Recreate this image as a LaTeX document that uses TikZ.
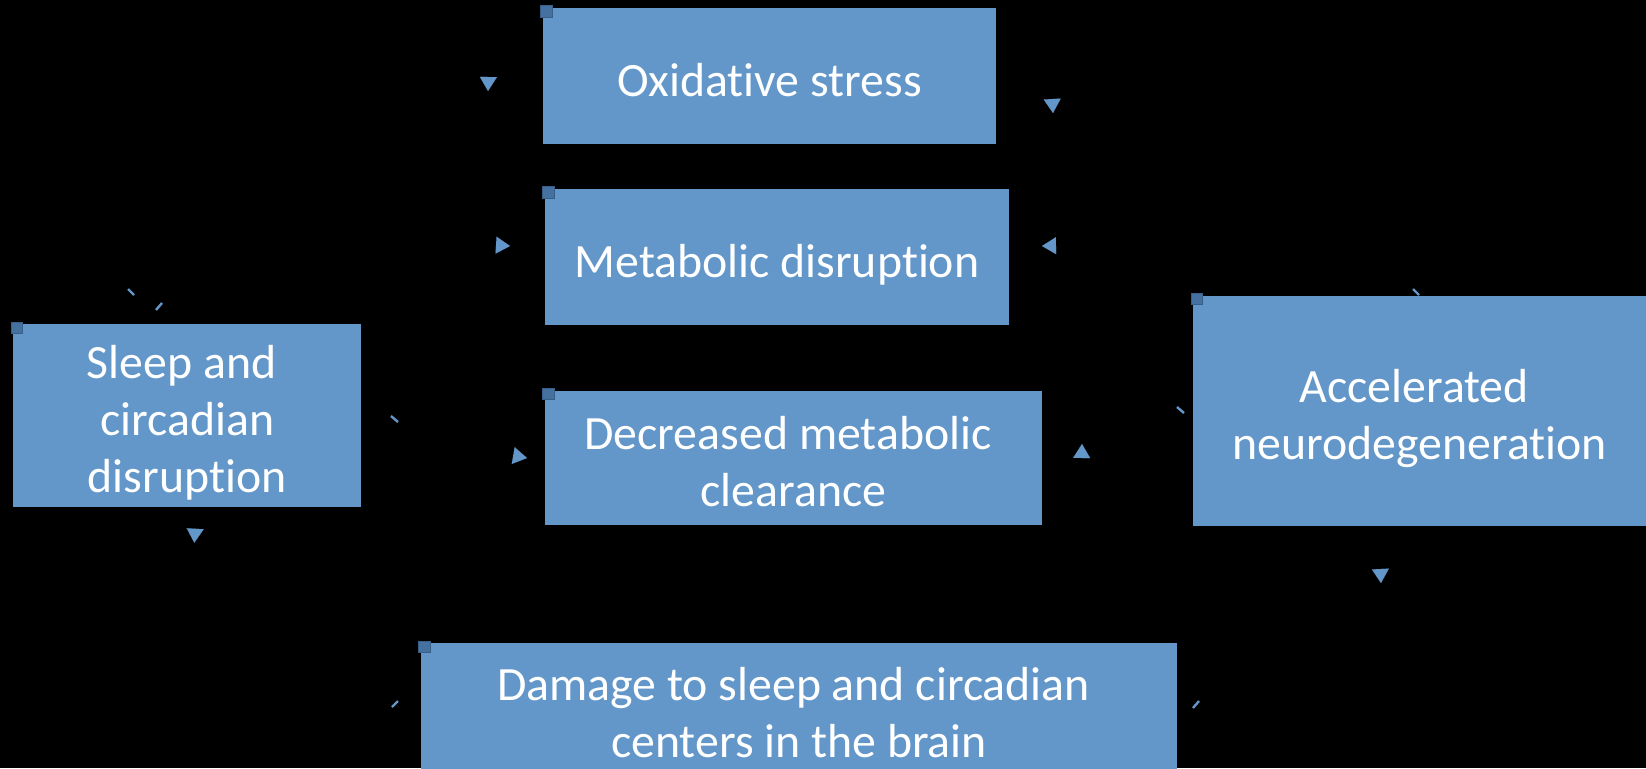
\documentclass[tikz,border=0pt]{standalone}
\usepackage{fontspec}
\setmainfont{Carlito}[Ligatures=NoCommon]
\usetikzlibrary{arrows.meta}
\definecolor{boxblue}{HTML}{6397C9}
\definecolor{mkblue}{HTML}{44719F}
\definecolor{mkedge}{HTML}{375F88}
\pgfdeclarelayer{bg}
\pgfdeclarelayer{background}
\pgfsetlayers{bg,background,main}
\newcommand\trsp{\hspace*{0.23em}}
\newcommand\topstr{\rule{0pt}{27pt}}
\newcommand\botstr{\rule[-7pt]{0pt}{7pt}}
\begin{document}
\begin{tikzpicture}[x=0.5pt,y=-0.5pt,
  box/.style={fill=boxblue, inner sep=0pt, outer sep=0pt, text=white, align=center,
    font=\fontsize{23.9pt}{28.6pt}\selectfont},
  selmark/.style={fill=mkblue, draw=mkedge, line width=0.3pt, minimum size=5.6pt,
    inner sep=0pt, outer sep=0pt},
  conn/.style={draw=black, line width=1pt,
    -{Triangle[length=7pt,width=8.5pt,line width=0.01pt,color=boxblue]}},
  stub/.style={draw=boxblue, line width=1.2pt}]
\useasboundingbox (0,0) rectangle (1646,768);
\begin{pgfonlayer}{bg}
  \fill[black] (0,0) rectangle (1646,768);
\end{pgfonlayer}
\clip (0,0) rectangle (1646,768);

% boxes
\node[box, minimum width=226.5pt, minimum height=68pt] (ox) at (769.5,76)
  {\topstr Oxidative stress\botstr};
\node[box, minimum width=232pt, minimum height=68pt] (md) at (777,257)
  {\topstr Metabolic disruption\botstr};
\node[box, minimum width=248.5pt, minimum height=67.25pt] (dc) at (793.5,457.75)
  {\topstr Decreased metabolic\trsp\\clearance\botstr};
\node[box, minimum width=173.85pt, minimum height=90.5pt] (sl) at (187.2,415.5)
  {\topstr Sleep and\trsp\\circadian\trsp\\disruption\botstr};
\node[box, minimum width=226.35pt, minimum height=115.15pt] (ac) at (1419.7,411)
  {\topstr Accelerated\trsp\\neurodegeneration\botstr};
\node[box, minimum width=378pt, minimum height=65.75pt] (dm) at (799,709)
  {\topstr Damage to sleep and circadian\trsp\\centers in the brain\botstr};

% selection markers
\foreach \n in {ox,md,dc,sl,ac,dm}
  \node[selmark] (\n-mk) at ([shift={(3.3,3.3)}]\n.north west) {};

% connector ends
\coordinate (a0) at (128,289); \coordinate (a) at (134,295);
\coordinate (b0) at (156,310); \coordinate (b) at (162,303);
\coordinate (c0) at (391,416); \coordinate (c) at (398,422);
\coordinate (d0) at (1184,413); \coordinate (d) at (1177,407);
\coordinate (e0) at (1419,295); \coordinate (e) at (1413,289);
\coordinate (f0) at (392,707); \coordinate (f) at (398,701);
\coordinate (g0) at (1193,708); \coordinate (g) at (1199,701);
\coordinate (h1) at (488,91);
\coordinate (h2) at (1053,113);
\coordinate (h3) at (510,246);
\coordinate (h4) at (1042,246);
\coordinate (h5) at (527,458);
\coordinate (h6) at (1082,444);
\coordinate (h7) at (194.3,542.7);
\coordinate (h8) at (1381,583);

\begin{pgfonlayer}{background}
  \draw[conn] (a) .. controls (300,120) and (489,50) .. (h1);
  \draw[conn] (b) .. controls (300,240) and (460,243) .. (h3);
  \draw[conn] (c) .. controls (440,440) and (487,451) .. (h5);
  \draw[conn] (e) .. controls (1400,150) and (1050,60) .. (h2);
  \draw[conn] (e) .. controls (1300,250) and (1090,245) .. (h4);
  \draw[conn] (d) .. controls (1120,420) and (1081,490) .. (h6);
  \draw[conn] (g) .. controls (1300,700) and (1379,540) .. (h8);
  \draw[conn] (f) .. controls (300,700) and (197,500) .. (h7);
\end{pgfonlayer}

% visible starts of the connectors
\draw[stub] (a0) -- (a);
\draw[stub] (b0) -- (b);
\draw[stub] (c0) -- (c);
\draw[stub] (d0) -- (d);
\draw[stub] (e0) -- (e);
\draw[stub] (f0) -- (f);
\draw[stub] (g0) -- (g);
\end{tikzpicture}
\end{document}
